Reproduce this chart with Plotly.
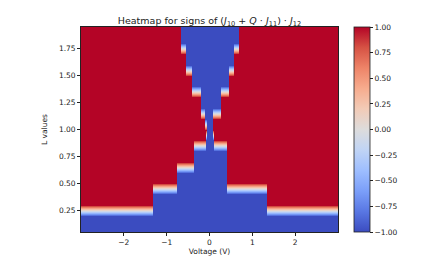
import numpy as np
import plotly.graph_objects as go

# L values (rows of the heatmap)
L_values = [0.1, 0.2, 0.3, 0.4, 0.5, 0.6, 0.7, 0.8, 0.9, 1.0,
            1.1, 1.2, 1.3, 1.4, 1.5, 1.6, 1.7, 1.8, 1.9]
# Voltage interval (left, right) where the sign is negative, per L row
neg_left = [-3.0, -3.0, -1.33, -1.33, -0.75, -0.75, -0.37, -0.37, -0.09, -0.06,
            -0.12, -0.21, -0.21, -0.43, -0.43, -0.55, -0.55, -0.67, -0.67]
neg_right = [3.0, 3.0, 1.34, 1.34, 0.41, 0.41, 0.40, 0.40, 0.10, 0.07,
             0.08, 0.26, 0.26, 0.45, 0.45, 0.57, 0.57, 0.68, 0.68]

voltage = np.linspace(-3.0, 3.0, 601)

z = []
for lo, hi in zip(neg_left, neg_right):
    row = np.where((voltage >= lo) & (voltage <= hi), -1.0, 1.0)
    z.append(row.tolist())

coolwarm = [
    [0.0, '#3b4cc0'], [0.1, '#5977e3'], [0.2, '#7b9ff9'], [0.3, '#9ebeff'],
    [0.4, '#c0d4f5'], [0.5, '#dddcdc'], [0.6, '#f2cbb7'], [0.7, '#f7ac8e'],
    [0.8, '#ee8468'], [0.9, '#d65244'], [1.0, '#b40426'],
]

x_ticks = [-2, -1, 0, 1, 2]
x_ticktext = ['\u22122', '\u22121', '0', '1', '2']
y_ticks = [0.25, 0.5, 0.75, 1.0, 1.25, 1.5, 1.75]
y_ticktext = ['0.25', '0.50', '0.75', '1.00', '1.25', '1.50', '1.75']
cb_ticks = [-1.0, -0.75, -0.5, -0.25, 0.0, 0.25, 0.5, 0.75, 1.0]
cb_ticktext = ['\u22121.00', '\u22120.75', '\u22120.50', '\u22120.25', '0.00',
               '0.25', '0.50', '0.75', '1.00']

font = dict(family='DejaVu Sans', size=7.5, color='#222')

fig = go.Figure(go.Heatmap(
    x=voltage, y=L_values, z=z,
    colorscale=coolwarm, zmin=-1, zmax=1, zsmooth='best',
    colorbar=dict(
        x=(354 - 81) / 257, xanchor='left', xpad=0, y=0.5, yanchor='middle', len=1.0,
        ypad=0, thickness=16, outlinecolor='#222', outlinewidth=0.8,
        tickvals=cb_ticks, ticktext=cb_ticktext, ticks='outside', ticklen=3,
        tickwidth=0.8, tickcolor='#222', tickfont=font,
    ),
))

fig.update_layout(
    width=441, height=256,
    margin=dict(l=81, r=103, t=27, b=24, autoexpand=False),
    paper_bgcolor='white', plot_bgcolor='white',
    font=font,
    title=dict(
        text='Heatmap for signs of (<i>J</i><sub>10</sub> + <i>Q</i> \u00b7 <i>J</i><sub>11</sub>) \u00b7 <i>J</i><sub>12</sub>',
        x=(81 + 338) / 2 / 441, xanchor='center', y=1 - 21 / 256, yanchor='middle',
        font=dict(family='DejaVu Sans', size=9.5, color='#222'),
    ),
    xaxis=dict(
        range=[-3, 3], tickvals=x_ticks, ticktext=x_ticktext, automargin=False,
        ticks='outside', ticklen=3, tickwidth=0.8, tickcolor='#222',
        showline=True, linecolor='#222', linewidth=0.8, mirror=True,
        showgrid=False, zeroline=False,
        title=dict(text='Voltage (V)', standoff=1, font=dict(family='DejaVu Sans', size=7.5)),
    ),
    yaxis=dict(
        range=[0.05, 1.95], tickvals=y_ticks, ticktext=y_ticktext, automargin=False,
        ticks='outside', ticklen=3, tickwidth=0.8, tickcolor='#222',
        showline=True, linecolor='#222', linewidth=0.8, mirror=True,
        showgrid=False, zeroline=False,
        title=dict(text='L values', standoff=10, font=dict(family='DejaVu Sans', size=7.5)),
    ),
)

fig.write_html('out.html', config={'displayModeBar': False},
               post_script="document.body.style.margin='0px';")
